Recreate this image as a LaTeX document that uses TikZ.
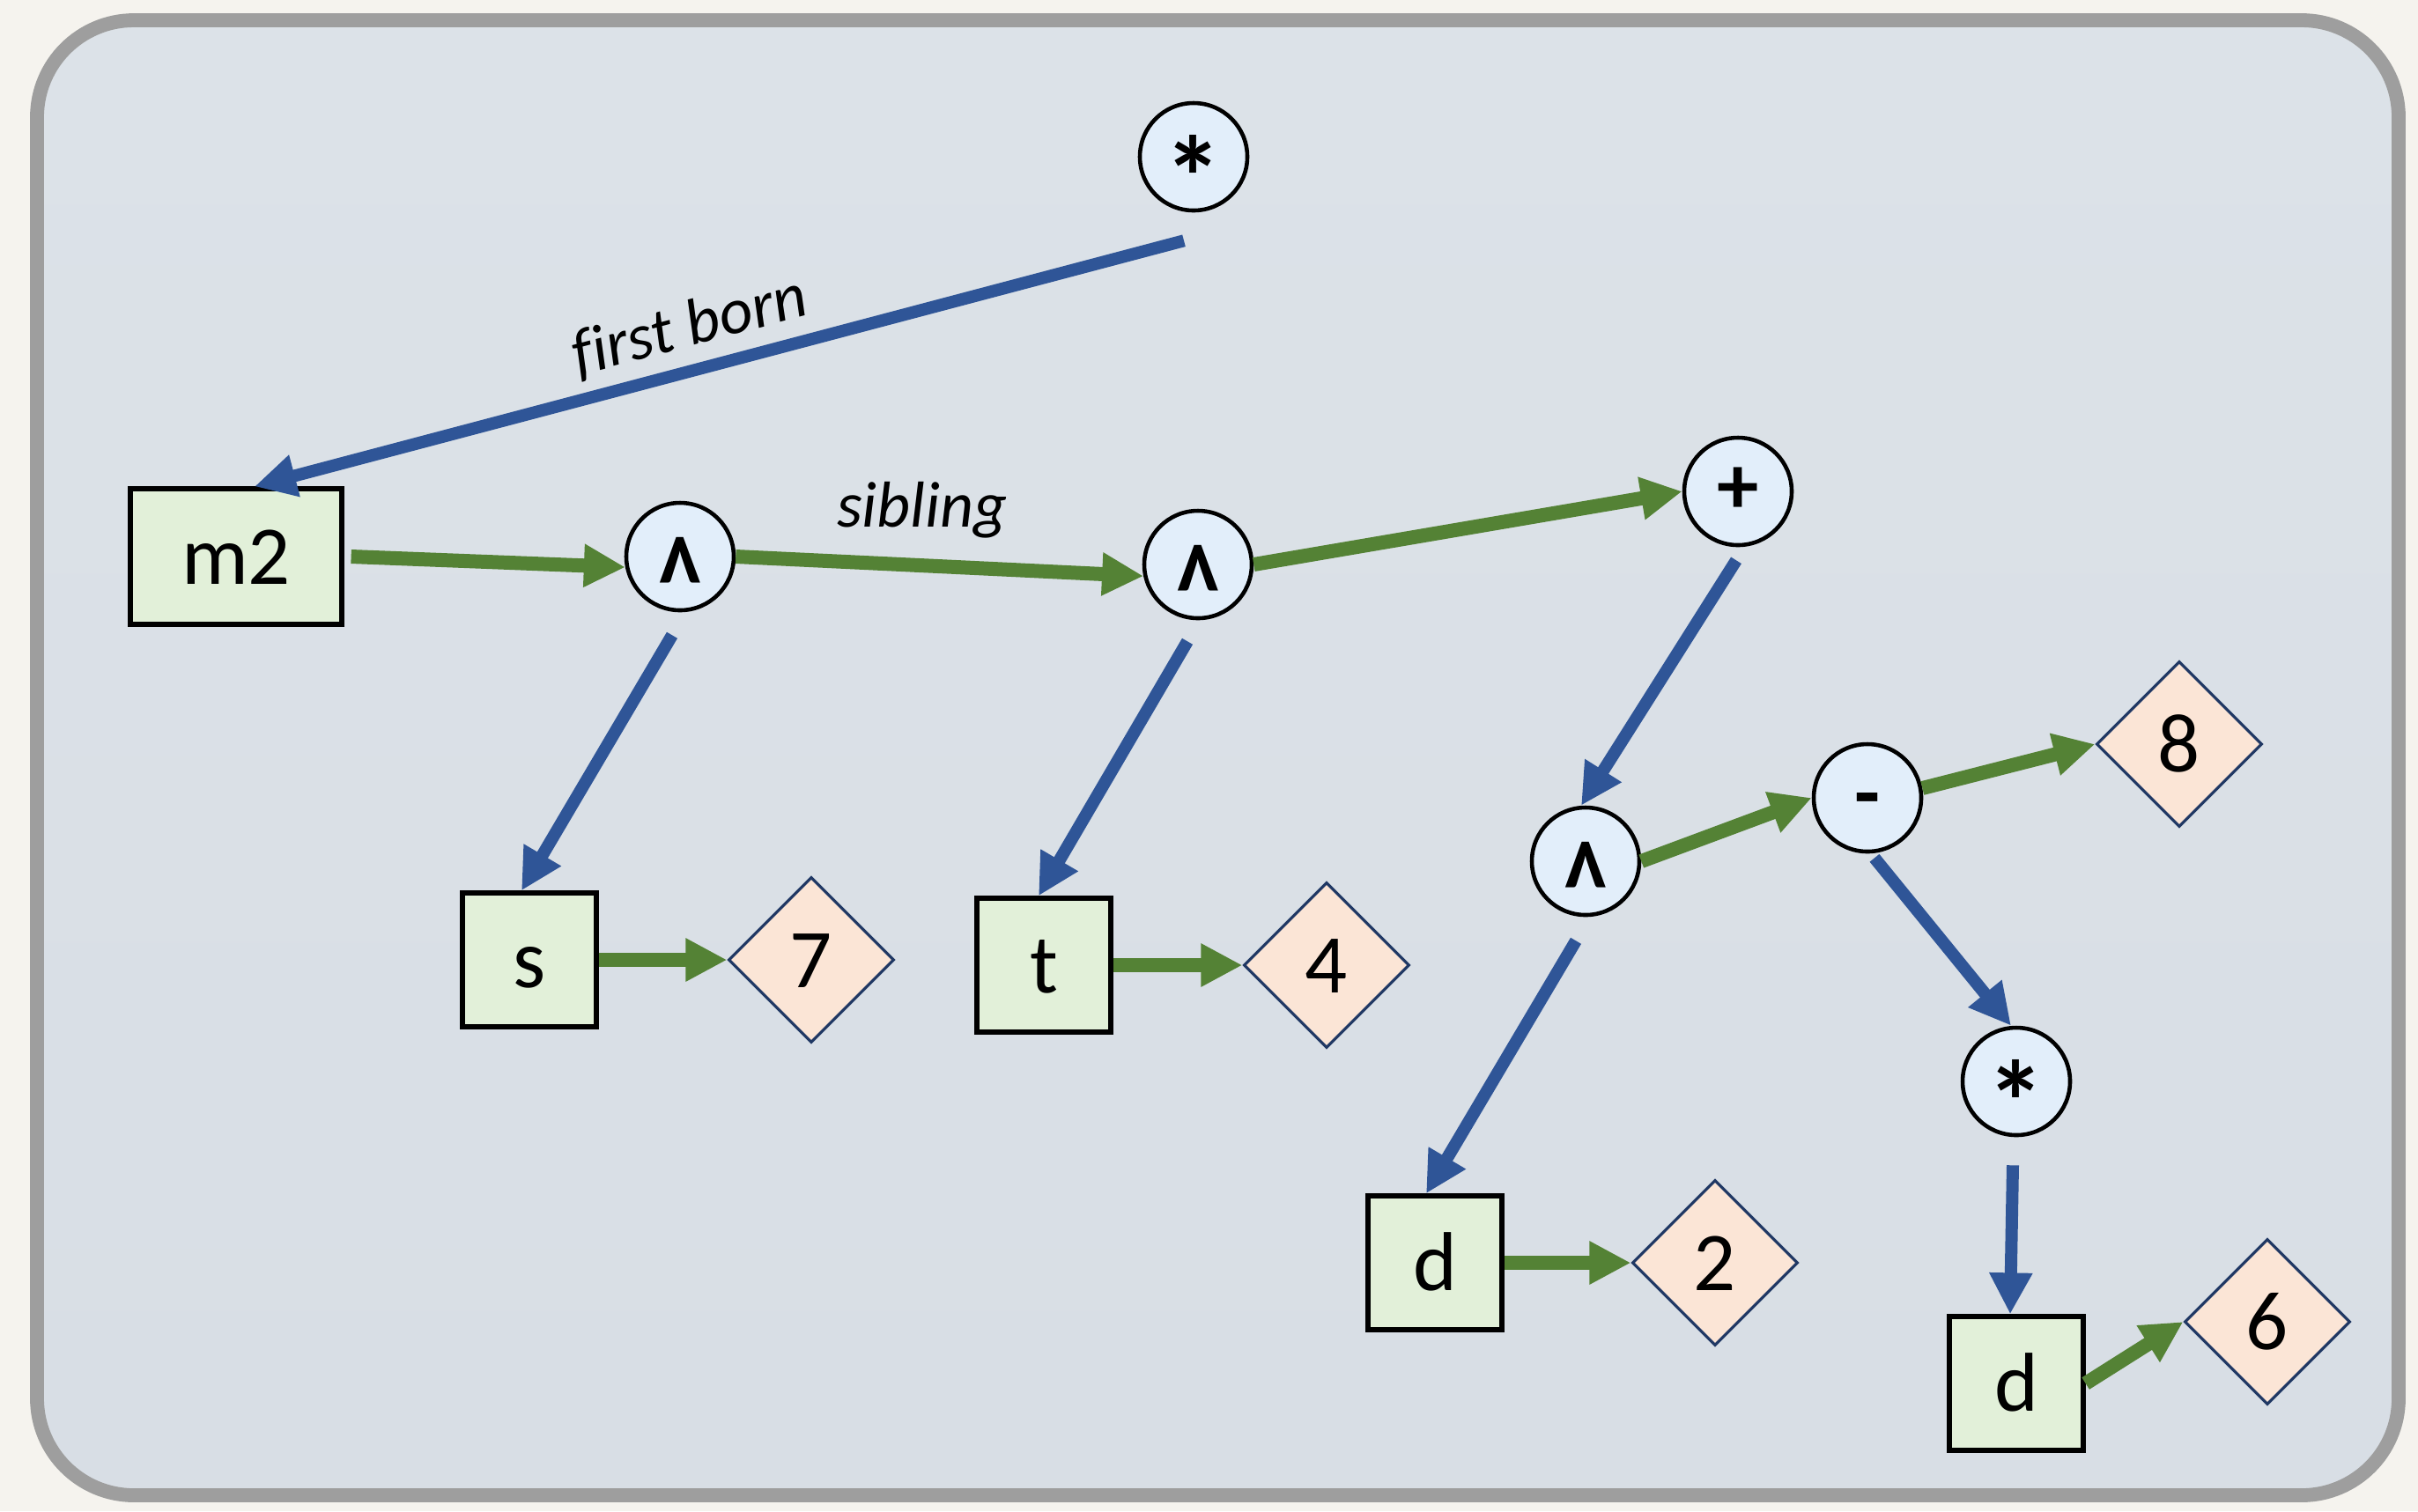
\documentclass[tikz,border=0pt]{standalone}
\usepackage{fontspec}
\setmainfont{Carlito}
\usetikzlibrary{arrows.meta,positioning,shapes.geometric}

\definecolor{kidblue}{HTML}{2F5597}
\definecolor{sibgreen}{HTML}{548235}
\definecolor{varfill}{HTML}{E2F0D9}
\definecolor{valfill}{HTML}{FBE5D6}
\definecolor{valline}{HTML}{203864}
\definecolor{opfill}{HTML}{E2EEFA}
\definecolor{paper}{HTML}{F5F3EE}
\definecolor{cardtop}{HTML}{DCE2E8}
\definecolor{cardmid}{HTML}{CCD3DB}
\definecolor{cardbot}{HTML}{D8DEE5}
\definecolor{cardline}{HTML}{9E9E9E}

\newcommand{\startok}{\raisebox{-.74em}{\scalebox{1.4}{*}}}
\newcommand{\hattok}{\raisebox{-.8em}{\scalebox{1.05}[1.5]{\textasciicircum}}}

\tikzset{
  op/.style={circle, draw=black, line width=1.3pt, fill=opfill, minimum size=1.22cm,
    inner sep=0pt, text height=0pt, text depth=0pt, font=\fontsize{27}{32}\selectfont\bfseries},
  var/.style={rectangle, draw=black, line width=1.5pt, fill=varfill, minimum size=1.52cm,
    inner sep=0pt, text height=17.8pt, text depth=0pt},
  val/.style={diamond, draw=valline, line width=0.9pt, fill=valfill, minimum size=1.88cm,
    inner sep=0pt, text height=17.8pt, text depth=0pt},
  kid/.style={color=kidblue, line width=0.14cm, -{Triangle[length=0.47cm,width=0.46cm]}},
  sib/.style={color=sibgreen, line width=0.16cm, -{Triangle[length=0.47cm,width=0.46cm]}},
  tag/.style={font=\fontsize{21}{25}\selectfont\itshape, text=black}
}

\begin{document}
\begin{tikzpicture}[node distance=2.5cm,on grid,font=\fontsize{27}{32}\selectfont]
\useasboundingbox (0,0) rectangle (27.45,-17.16);
\fill[paper] (0,0) rectangle (27.45,-17.16);
\shadedraw[top color=cardtop, middle color=cardmid, bottom color=cardbot,
  draw=cardline, line width=4.5pt, rounded corners=1.1cm] (0.42,-0.23) rectangle (27.23,-16.98);

\node[op] (star1) at (13.55,-1.78) {\startok};
\node[var, minimum width=2.4cm, minimum height=1.54cm] (m2) [below left=4.54cm and 10.87cm of star1] {m2};
\node[op] (hat1) [right=5.04cm of m2] {\hattok};
\node[op] (hat2) [below right=0.09cm and 5.88cm of hat1] {\hattok};
\node[op] (plus) [above right=0.83cm and 6.13cm of hat2] {\raisebox{-.27em}{+}};
\node[op] (hat3) [below left=4.20cm and 1.73cm of plus] {\hattok};
\node[op] (minus) [above right=0.72cm and 3.20cm of hat3] {\raisebox{-.28em}{-}};
\node[val] (eight) [above right=0.61cm and 3.54cm of minus] {8};
\node[op] (star2) [below right=3.22cm and 1.69cm of minus] {\startok};
\node[var] (d2) [below=3.43cm of star2] {d};
\node[val] (six) [above right=0.70cm and 2.85cm of d2] {6};
\node[var] (s) [below left=4.58cm and 1.71cm of hat1] {s};
\node[val] (seven) [right=3.20cm of s] {7};
\node[var] (t) [below left=4.55cm and 1.75cm of hat2] {t};
\node[val] (four) [right=3.21cm of t] {4};
\node[var] (d1) [below left=4.56cm and 1.71cm of hat3] {d};
\node[val] (two) [right=3.18cm of d1] {2};

\path[kid]
  ([xshift=-0.11cm,yshift=-0.32cm]star1.south) edge node[tag, above, sloped, pos=0.52] {f\kern0pt irst born} ([xshift=0.21cm]m2.north)
  ([xshift=-0.09cm,yshift=-0.26cm]hat1.south) edge ([xshift=-0.09cm]s.north)
  ([xshift=-0.12cm,yshift=-0.24cm]hat2.south) edge ([xshift=-0.06cm]t.north)
  ([xshift=-0.02cm,yshift=-0.15cm]plus.south) edge ([xshift=-0.05cm]hat3.north)
  ([xshift=-0.11cm,yshift=-0.27cm]hat3.south) edge ([xshift=-0.10cm]d1.north)
  ([xshift=0.08cm,yshift=-0.05cm]minus.south) edge ([xshift=-0.06cm]star2.north)
  ([xshift=-0.04cm,yshift=-0.32cm]star2.south) edge ([xshift=-0.07cm]d2.north);

\path[sib]
  ([xshift=0.08cm]m2.east) edge (hat1.191)
  (hat1.east) edge node[tag, above, xshift=-0.2cm, yshift=0.12cm] {sibling} (hat2.192)
  (hat2.east) edge (plus.west)
  (s.east) edge (seven.west)
  (t.east) edge (four.west)
  (hat3.east) edge (minus.west)
  (minus.10) edge (eight.west)
  (d1.east) edge (two.west)
  (d2.east) edge (six.west);
\end{tikzpicture}
\end{document}
